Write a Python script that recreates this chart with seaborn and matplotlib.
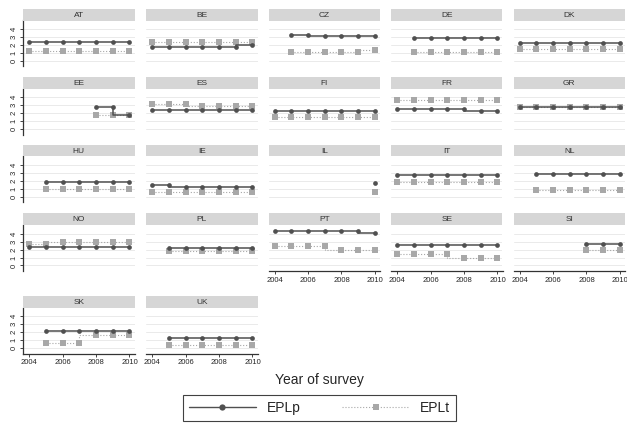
import matplotlib
matplotlib.use('Agg')
import matplotlib.pyplot as plt
from matplotlib.lines import Line2D
import pandas as pd
import seaborn as sns

countries = ['AT', 'BE', 'CZ', 'DE', 'DK',
             'EE', 'ES', 'FI', 'FR', 'GR',
             'HU', 'IE', 'IL', 'IT', 'NL',
             'NO', 'PL', 'PT', 'SE', 'SI',
             'SK', 'UK']

first_year = {'AT': 2004, 'BE': 2004, 'CZ': 2005, 'DE': 2005, 'DK': 2004,
              'EE': 2008, 'ES': 2004, 'FI': 2004, 'FR': 2004, 'GR': 2004,
              'HU': 2005, 'IE': 2004, 'IL': 2010, 'IT': 2004, 'NL': 2005,
              'NO': 2004, 'PL': 2005, 'PT': 2004, 'SE': 2004, 'SI': 2008,
              'SK': 2005, 'UK': 2005}

eplp = {
    'AT': [2.4, 2.4, 2.4, 2.4, 2.4, 2.4, 2.4],
    'BE': [1.8, 1.8, 1.8, 1.8, 1.8, 1.8, 2.05],
    'CZ': [3.3, 3.3, 3.1, 3.1, 3.1, 3.1],
    'DE': [2.9, 2.9, 2.9, 2.9, 2.9, 2.9],
    'DK': [2.2, 2.2, 2.2, 2.2, 2.2, 2.2, 2.2],
    'EE': [2.75, 2.75, 1.75],
    'ES': [2.35, 2.35, 2.35, 2.35, 2.35, 2.35, 2.35],
    'FI': [2.2, 2.2, 2.2, 2.2, 2.2, 2.2, 2.2],
    'FR': [2.5, 2.5, 2.5, 2.5, 2.5, 2.3, 2.3],
    'GR': [2.8, 2.8, 2.8, 2.8, 2.8, 2.8, 2.8],
    'HU': [1.9, 1.9, 1.9, 1.9, 1.9, 1.9],
    'IE': [1.45, 1.45, 1.25, 1.25, 1.25, 1.25, 1.25],
    'IL': [1.75],
    'IT': [2.75, 2.75, 2.75, 2.75, 2.75, 2.75, 2.75],
    'NL': [2.95, 2.95, 2.95, 2.95, 2.85, 2.85],
    'NO': [2.35, 2.35, 2.35, 2.35, 2.35, 2.35, 2.35],
    'PL': [2.2, 2.2, 2.2, 2.2, 2.2, 2.2],
    'PT': [4.4, 4.4, 4.4, 4.4, 4.4, 4.4, 4.1],
    'SE': [2.6, 2.6, 2.6, 2.6, 2.6, 2.6, 2.6],
    'SI': [2.75, 2.75, 2.75],
    'SK': [2.15, 2.15, 2.15, 2.15, 2.15, 2.15],
    'UK': [1.2, 1.2, 1.2, 1.2, 1.2, 1.2],
}

eplt = {
    'AT': [1.3, 1.3, 1.3, 1.3, 1.3, 1.3, 1.3],
    'BE': [2.4, 2.4, 2.4, 2.4, 2.4, 2.4, 2.4],
    'CZ': [1.15, 1.15, 1.15, 1.15, 1.15, 1.4],
    'DE': [1.1, 1.1, 1.1, 1.1, 1.1, 1.1],
    'DK': [1.5, 1.5, 1.5, 1.5, 1.5, 1.5, 1.5],
    'EE': [1.75, 1.75, 1.75],
    'ES': [3.2, 3.2, 3.2, 2.95, 2.95, 2.95, 2.95],
    'FI': [1.45, 1.45, 1.45, 1.45, 1.45, 1.45, 1.45],
    'FR': [3.6, 3.6, 3.6, 3.6, 3.6, 3.6, 3.6],
    'GR': [2.75, 2.75, 2.75, 2.75, 2.75, 2.75, 2.75],
    'HU': [1.05, 1.05, 1.05, 1.05, 1.05, 1.05],
    'IE': [0.65, 0.65, 0.65, 0.65, 0.65, 0.65, 0.65],
    'IL': [0.6],
    'IT': [1.9, 1.9, 1.9, 1.9, 1.9, 1.9, 1.9],
    'NL': [0.9, 0.9, 0.9, 0.9, 0.9, 0.9],
    'NO': [2.75, 2.75, 3.0, 3.0, 3.0, 3.0, 3.0],
    'PL': [1.8, 1.8, 1.8, 1.8, 1.8, 1.8],
    'PT': [2.5, 2.5, 2.5, 2.5, 2.0, 2.0, 2.0],
    'SE': [1.5, 1.5, 1.5, 1.5, 0.9, 0.9, 0.9],
    'SI': [2.0, 2.0, 2.0],
    'SK': [0.65, 0.65, 0.65, 1.65, 1.65, 1.65],
    'UK': [0.35, 0.35, 0.35, 0.35, 0.35, 0.35],
}

x_ticks = [2004, 2006, 2008, 2010]
y_ticks = [0, 1, 2, 3, 4]

rows = []
for c in countries:
    for i, (p, t) in enumerate(zip(eplp[c], eplt[c])):
        rows.append({'country': c, 'year': first_year[c] + i, 'EPLp': p, 'EPLt': t})
df = pd.DataFrame(rows)

sns.set_style('white')
plt.rcParams['font.family'] = ['Liberation Sans', 'DejaVu Sans']

W, H = 627, 426
fig = plt.figure(figsize=(W / 100, H / 100), dpi=100)

col_left = [23, 146, 268.5, 391, 513.5]
panel_w = 111.5
row_top = [20.5, 88.5, 156.5, 225, 307.5]
panel_h = 46
strip_h = 11.5

p_color = '#505050'
t_color = '#a8a8a8'

n_cols = 5
for k, c in enumerate(countries):
    r, col = divmod(k, n_cols)
    left = col_left[col] / W
    bottom = 1 - (row_top[r] + panel_h) / H
    ax = fig.add_axes([left, bottom, panel_w / W, panel_h / H])
    sax = fig.add_axes([left, 1 - row_top[r] / H, panel_w / W, strip_h / H])
    sax.set_facecolor('#d6d6d6')
    sax.set_xticks([])
    sax.set_yticks([])
    for s in sax.spines.values():
        s.set_visible(False)
    sax.text(0.5, 0.45, c, ha='center', va='center', fontsize=6, color='#333333')

    sub = df[df.country == c]
    for y in y_ticks:
        ax.axhline(y, color='#e6e6e6', lw=0.6, zorder=0)
    sns.lineplot(data=sub, x='year', y='EPLt', ax=ax, color=t_color, lw=0.8,
                 linestyle=':', marker='s', markersize=4.0, markeredgewidth=0,
                 drawstyle='steps-pre')
    sns.lineplot(data=sub, x='year', y='EPLp', ax=ax, color=p_color, lw=1.1,
                 marker='o', markersize=3.4, markeredgewidth=0,
                 drawstyle='steps-pre')

    ax.set_xlim(2003.64, 2010.3)
    ax.set_ylim(-0.7, 5.1)
    ax.set_xlabel('')
    ax.set_ylabel('')
    for s in ax.spines.values():
        s.set_visible(False)

    if col == 0:
        ax.spines['left'].set_visible(True)
        ax.spines['left'].set_color('#333333')
        ax.spines['left'].set_linewidth(0.9)
        ax.set_yticks(y_ticks)
        ax.set_yticklabels([str(v) for v in y_ticks], rotation=90, va='center',
                           fontsize=5.5)
        ax.tick_params(axis='y', length=2.5, width=0.6, pad=1.5, left=True)
    else:
        ax.set_yticks([])

    is_bottom = (r == 4) or (r == 3 and col >= 2)
    if is_bottom:
        ax.spines['bottom'].set_visible(True)
        ax.spines['bottom'].set_color('#333333')
        ax.spines['bottom'].set_linewidth(0.9)
        ax.set_xticks(x_ticks)
        ax.set_xticklabels([str(v) for v in x_ticks], fontsize=5.5)
        ax.tick_params(axis='x', length=2.5, width=0.6, pad=1.5, bottom=True)
    else:
        ax.set_xticks([])

fig.text(319 / W, 1 - 380 / H, 'Year of survey', ha='center', va='center',
         fontsize=10)

handles = [
    Line2D([], [], color=p_color, lw=1.0, marker='o', markersize=4.5,
           markeredgewidth=0),
    Line2D([], [], color=t_color, lw=0.8, linestyle=':', marker='s',
           markersize=5, markeredgewidth=0),
]
leg = fig.legend(handles, ['EPLp', 'EPLt'], loc='center', ncol=2,
                 bbox_to_anchor=(319.5 / W, 1 - 408 / H), fontsize=10,
                 handlelength=4.8, columnspacing=3.0, handletextpad=0.8,
                 frameon=True, fancybox=False, borderpad=0.4)
leg.get_frame().set_edgecolor('#111111')
leg.get_frame().set_linewidth(0.8)

fig.savefig('out.png', dpi=100)
